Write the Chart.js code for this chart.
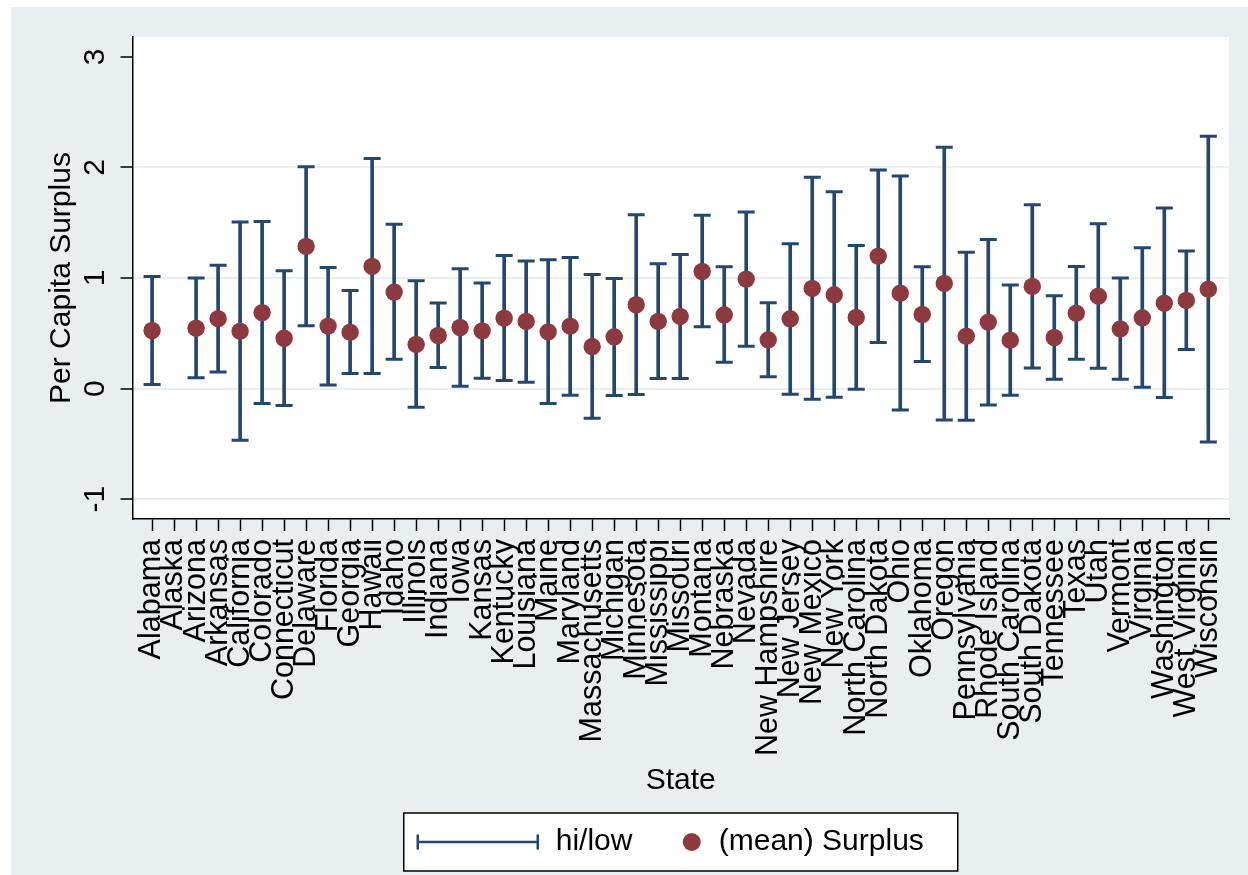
<!DOCTYPE html>
<html>
<head>
<meta charset="utf-8">
<script src="https://cdn.jsdelivr.net/npm/chart.js@4.4.1/dist/chart.umd.min.js"></script>
<style>
  html, body { margin: 0; padding: 0; background: #ffffff; }
  #wrap { position: absolute; left: 11px; top: 7px; width: 1237px; height: 868px; background: #e9eef1; }
</style>
</head>
<body>
<div id="wrap"><canvas id="myChart"></canvas></div>
<script>
// states on the x axis (Alaska has no data)
var states = ['Alabama', 'Alaska', 'Arizona', 'Arkansas', 'California', 'Colorado', 'Connecticut',
  'Delaware', 'Florida', 'Georgia', 'Hawaii', 'Idaho', 'Illinois', 'Indiana', 'Iowa', 'Kansas',
  'Kentucky', 'Louisiana', 'Maine', 'Maryland', 'Massachusetts', 'Michigan', 'Minnesota',
  'Mississippi', 'Missouri', 'Montana', 'Nebraska', 'Nevada', 'New Hampshire', 'New Jersey',
  'New Mexico', 'New York', 'North Carolina', 'North Dakota', 'Ohio', 'Oklahoma', 'Oregon',
  'Pennsylvania', 'Rhode Island', 'South Carolina', 'South Dakota', 'Tennessee', 'Texas', 'Utah',
  'Vermont', 'Virginia', 'Washington', 'West Virginia', 'Wisconsin'];

// (mean) Surplus
var meanSurplus = [0.525, null, 0.546, 0.632, 0.519, 0.687, 0.455, 1.286, 0.565, 0.510, 1.105,
  0.873, 0.400, 0.480, 0.552, 0.522, 0.637, 0.607, 0.513, 0.564, 0.380, 0.468, 0.758, 0.607,
  0.652, 1.059, 0.667, 0.990, 0.441, 0.631, 0.906, 0.848, 0.643, 1.198, 0.863, 0.670, 0.951,
  0.474, 0.601, 0.438, 0.924, 0.462, 0.682, 0.836, 0.540, 0.640, 0.773, 0.797, 0.899];

// hi / low
var hiSurplus = [1.014, null, 1.000, 1.115, 1.506, 1.512, 1.066, 2.007, 1.096, 0.888, 2.080,
  1.487, 0.976, 0.773, 1.084, 0.954, 1.204, 1.153, 1.165, 1.186, 1.032, 0.996, 1.573, 1.129,
  1.213, 1.567, 1.102, 1.597, 0.776, 1.310, 1.911, 1.781, 1.295, 1.977, 1.923, 1.102, 2.182,
  1.232, 1.349, 0.936, 1.663, 0.839, 1.105, 1.491, 0.999, 1.274, 1.633, 1.244, 2.282];
var lowSurplus = [0.036, null, 0.097, 0.149, -0.468, -0.135, -0.154, 0.568, 0.033, 0.137, 0.137,
  0.265, -0.170, 0.190, 0.021, 0.094, 0.072, 0.057, -0.136, -0.060, -0.269, -0.063, -0.054, 0.091,
  0.091, 0.558, 0.238, 0.383, 0.106, -0.051, -0.097, -0.078, -0.006, 0.417, -0.193, 0.244, -0.284,
  -0.287, -0.148, -0.060, 0.187, 0.085, 0.266, 0.184, 0.085, 0.012, -0.081, 0.353, -0.483];

var yTicks = [-1, 0, 1, 2, 3];

var navy = '#23476e';
var maroon = '#8c3a3f';
var gridCol = '#e9eff2';
var fontFam = '"Liberation Sans", Arial, Helvetica, sans-serif';

var rangeData = [], hiData = [], lowData = [], meanData = [];
for (var i = 0; i < states.length; i++) {
  if (meanSurplus[i] === null) continue;
  rangeData.push({ x: i, y: [lowSurplus[i], hiSurplus[i]] });
  hiData.push({ x: i, y: hiSurplus[i] });
  lowData.push({ x: i, y: lowSurplus[i] });
  meanData.push({ x: i, y: meanSurplus[i] });
}

// white plot region
var plotBg = {
  id: 'plotBg',
  beforeDraw: function (chart) {
    var a = chart.chartArea, ctx = chart.ctx;
    ctx.save();
    ctx.fillStyle = '#ffffff';
    ctx.fillRect(a.left, a.top, a.right - a.left, a.bottom - a.top);
    ctx.restore();
  }
};

// boxed legend under the plot (Stata style)
var boxLegend = {
  id: 'boxLegend',
  afterDraw: function (chart) {
    var ctx = chart.ctx, a = chart.chartArea;
    var w = 554, h = 58;
    var left = (a.left + a.right) / 2 - w / 2;
    var top = 806;
    var cy = top + h / 2;
    ctx.save();
    ctx.fillStyle = '#ffffff';
    ctx.fillRect(left, top, w, h);
    ctx.strokeStyle = '#000000';
    ctx.lineWidth = 1.5;
    ctx.strokeRect(left, top, w, h);
    // hi/low symbol
    ctx.strokeStyle = navy;
    ctx.lineWidth = 2.5;
    ctx.beginPath();
    ctx.moveTo(left + 14, cy); ctx.lineTo(left + 134, cy);
    ctx.moveTo(left + 14, cy - 7.5); ctx.lineTo(left + 14, cy + 7.5);
    ctx.moveTo(left + 134, cy - 7.5); ctx.lineTo(left + 134, cy + 7.5);
    ctx.stroke();
    ctx.fillStyle = '#000000';
    ctx.font = '30px ' + fontFam;
    ctx.textBaseline = 'middle';
    ctx.textAlign = 'left';
    ctx.fillText('hi/low', left + 152, cy);
    // mean dot
    ctx.fillStyle = maroon;
    ctx.beginPath();
    ctx.arc(left + 288, cy, 9, 0, Math.PI * 2);
    ctx.fill();
    ctx.fillStyle = '#000000';
    ctx.fillText('(mean) Surplus', left + 315, cy);
    ctx.restore();
  }
};

var ctx = document.getElementById('myChart').getContext('2d');
new Chart(ctx, {
  type: 'bar',
  data: {
    datasets: [
      {
        type: 'bar',
        label: 'hi/low',
        data: rangeData,
        backgroundColor: navy,
        borderWidth: 0,
        barThickness: 3,
        order: 3
      },
      {
        type: 'scatter',
        label: 'hi',
        data: hiData,
        pointStyle: 'line',
        pointRadius: 8.5,
        borderColor: navy,
        borderWidth: 3,
        order: 2
      },
      {
        type: 'scatter',
        label: 'low',
        data: lowData,
        pointStyle: 'line',
        pointRadius: 8.5,
        borderColor: navy,
        borderWidth: 3,
        order: 2
      },
      {
        type: 'scatter',
        label: '(mean) Surplus',
        data: meanData,
        pointRadius: 8.7,
        backgroundColor: maroon,
        borderWidth: 0,
        order: 1
      }
    ]
  },
  options: {
    responsive: true,
    maintainAspectRatio: false,
    animation: false,
    events: [],
    layout: { padding: { left: 0, top: 30, right: 19, bottom: 71 } },
    plugins: {
      legend: { display: false },
      tooltip: { enabled: false }
    },
    scales: {
      x: {
        type: 'linear',
        offset: false,
        bounds: 'data',
        min: -0.89,
        max: 48.94,
        afterBuildTicks: function (scale) {
          scale.ticks = states.map(function (s, k) { return { value: k }; });
        },
        afterFit: function (scale) {
          scale.height = 285;
          scale.paddingLeft = 0;
          scale.paddingRight = 0;
        },
        ticks: {
          autoSkip: false,
          minRotation: 90,
          maxRotation: 90,
          padding: 8,
          color: '#000000',
          font: { family: fontFam, size: 30.5 },
          callback: function (v) { return states[v]; }
        },
        grid: {
          offset: false,
          drawOnChartArea: false,
          tickLength: 12,
          tickColor: '#000000',
          tickWidth: 1.5
        },
        border: { display: true, color: '#000000', width: 1.5 },
        title: {
          display: true,
          text: 'State',
          color: '#000000',
          font: { family: fontFam, size: 30 },
          padding: { top: 0, bottom: 5 }
        }
      },
      y: {
        type: 'linear',
        bounds: 'data',
        min: -1.18,
        max: 3.18,
        afterBuildTicks: function (scale) {
          scale.ticks = yTicks.map(function (v) { return { value: v }; });
        },
        afterFit: function (scale) {
          scale.width = 121.5;
          scale.paddingTop = 0;
          scale.paddingBottom = 0;
        },
        ticks: {
          minRotation: 90,
          maxRotation: 90,
          crossAlign: 'center',
          padding: 11,
          color: '#000000',
          font: { family: fontFam, size: 30 }
        },
        grid: {
          color: function (c) { return c.tick && c.tick.value === 3 ? 'rgba(0,0,0,0)' : gridCol; },
          lineWidth: 2,
          tickLength: 12,
          tickColor: '#000000',
          tickWidth: 1.5
        },
        border: { display: true, color: '#000000', width: 1.5 },
        title: {
          display: true,
          text: 'Per Capita Surplus',
          color: '#000000',
          font: { family: fontFam, size: 30 },
          padding: { top: 33, bottom: 0 }
        }
      }
    }
  },
  plugins: [plotBg, boxLegend]
});
</script>
</body>
</html>
